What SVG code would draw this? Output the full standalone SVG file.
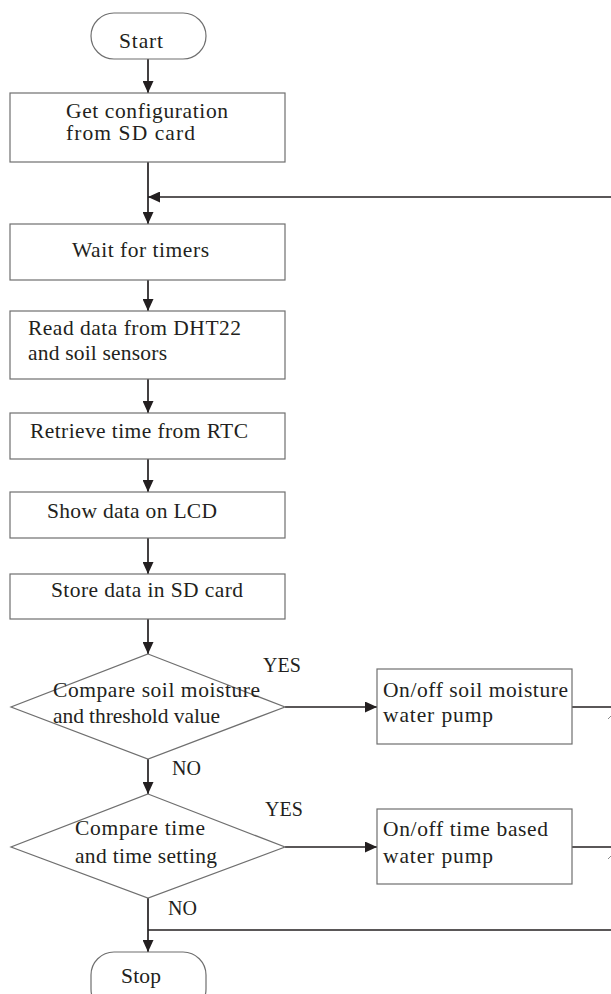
<svg xmlns="http://www.w3.org/2000/svg" width="611" height="994" viewBox="0 0 611 994">
<style>
.shape{fill:#fff;stroke:#6f6f6f;stroke-width:1.2}
.conn{fill:none;stroke:#231f20;stroke-width:1.7}
text{font-family:"Liberation Serif","Times New Roman",serif;font-size:21.5px;fill:#231f20}
.lbl{font-size:20px}
</style>
<defs>
<marker id="arr" markerUnits="userSpaceOnUse" markerWidth="13" markerHeight="11" refX="12" refY="5.5" orient="auto">
<path d="M0,0 L12,5.5 L0,11 Z" fill="#231f20"/>
</marker>
</defs>
<rect width="611" height="994" fill="#fff"/>
<g id="connectors">
<line class="conn" x1="148" y1="59" x2="148" y2="93" marker-end="url(#arr)"/>
<line class="conn" x1="148" y1="162" x2="148" y2="224" marker-end="url(#arr)"/>
<line class="conn" x1="611" y1="197" x2="148" y2="197" marker-end="url(#arr)"/>
<line class="conn" x1="148" y1="280" x2="148" y2="311" marker-end="url(#arr)"/>
<line class="conn" x1="148" y1="379" x2="148" y2="413" marker-end="url(#arr)"/>
<line class="conn" x1="148" y1="459" x2="148" y2="492" marker-end="url(#arr)"/>
<line class="conn" x1="148" y1="538" x2="148" y2="574" marker-end="url(#arr)"/>
<line class="conn" x1="148" y1="619" x2="148" y2="654" marker-end="url(#arr)"/>
<line class="conn" x1="285" y1="707" x2="377" y2="707" marker-end="url(#arr)"/>
<line class="conn" x1="572" y1="707" x2="611" y2="707"/>
<line class="conn" x1="148" y1="759" x2="148" y2="794" marker-end="url(#arr)"/>
<line class="conn" x1="285" y1="847" x2="377" y2="847" marker-end="url(#arr)"/>
<line class="conn" x1="572" y1="847" x2="611" y2="847"/>
<line class="conn" x1="148" y1="898" x2="148" y2="952" marker-end="url(#arr)"/>
<line class="conn" x1="148" y1="930" x2="611" y2="930"/>
<line x1="608" y1="719" x2="611" y2="716" stroke="#8a8a8a" stroke-width="1"/>
<line x1="608" y1="859" x2="611" y2="856" stroke="#8a8a8a" stroke-width="1"/>
</g>
<g id="start">
<rect class="shape" x="91" y="13" width="115" height="46" rx="23" ry="23"/>
<text x="119" y="48" textLength="44">Start</text>
</g>
<g id="get-config">
<rect class="shape" x="10" y="93" width="275" height="69"/>
<text x="66" y="118" textLength="162">Get configuration</text>
<text x="66" y="140" textLength="129">from SD card</text>
</g>
<g id="wait-timers">
<rect class="shape" x="10" y="224" width="275" height="56"/>
<text x="72" y="257" textLength="137">Wait for timers</text>
</g>
<g id="read-data">
<rect class="shape" x="10" y="311" width="275" height="68"/>
<text x="28" y="335" textLength="213">Read data from DHT22</text>
<text x="28" y="360" textLength="139">and soil sensors</text>
</g>
<g id="retrieve-time">
<rect class="shape" x="10" y="413" width="275" height="46"/>
<text x="30" y="438" textLength="218">Retrieve time from RTC</text>
</g>
<g id="show-lcd">
<rect class="shape" x="10" y="492" width="275" height="46"/>
<text x="47" y="518" textLength="170">Show data on LCD</text>
</g>
<g id="store-sd">
<rect class="shape" x="10" y="574" width="275" height="45"/>
<text x="51" y="597" textLength="192">Store data in SD card</text>
</g>
<g id="compare-soil">
<polygon class="shape" points="148,654 285,707 148,759 11,707"/>
<text x="53" y="697" textLength="207">Compare soil moisture</text>
<text x="53" y="723" textLength="167">and threshold value</text>
<text class="lbl" x="263" y="672">YES</text>
<text class="lbl" x="172" y="775">NO</text>
</g>
<g id="pump-soil">
<rect class="shape" x="377" y="669" width="195" height="75"/>
<text x="383" y="697" textLength="185">On/off soil moisture</text>
<text x="383" y="722" textLength="110">water pump</text>
</g>
<g id="compare-time">
<polygon class="shape" points="148,794 285,847 148,898 11,847"/>
<text x="75" y="835" textLength="130">Compare time</text>
<text x="75" y="863" textLength="142">and time setting</text>
<text class="lbl" x="265" y="816">YES</text>
<text class="lbl" x="168" y="915">NO</text>
</g>
<g id="pump-time">
<rect class="shape" x="377" y="809" width="195" height="75"/>
<text x="383" y="836" textLength="165">On/off time based</text>
<text x="383" y="863" textLength="110">water pump</text>
</g>
<g id="stop">
<rect class="shape" x="91" y="952" width="115" height="60" rx="23" ry="23"/>
<text x="121" y="983" textLength="40">Stop</text>
</g>
</svg>
